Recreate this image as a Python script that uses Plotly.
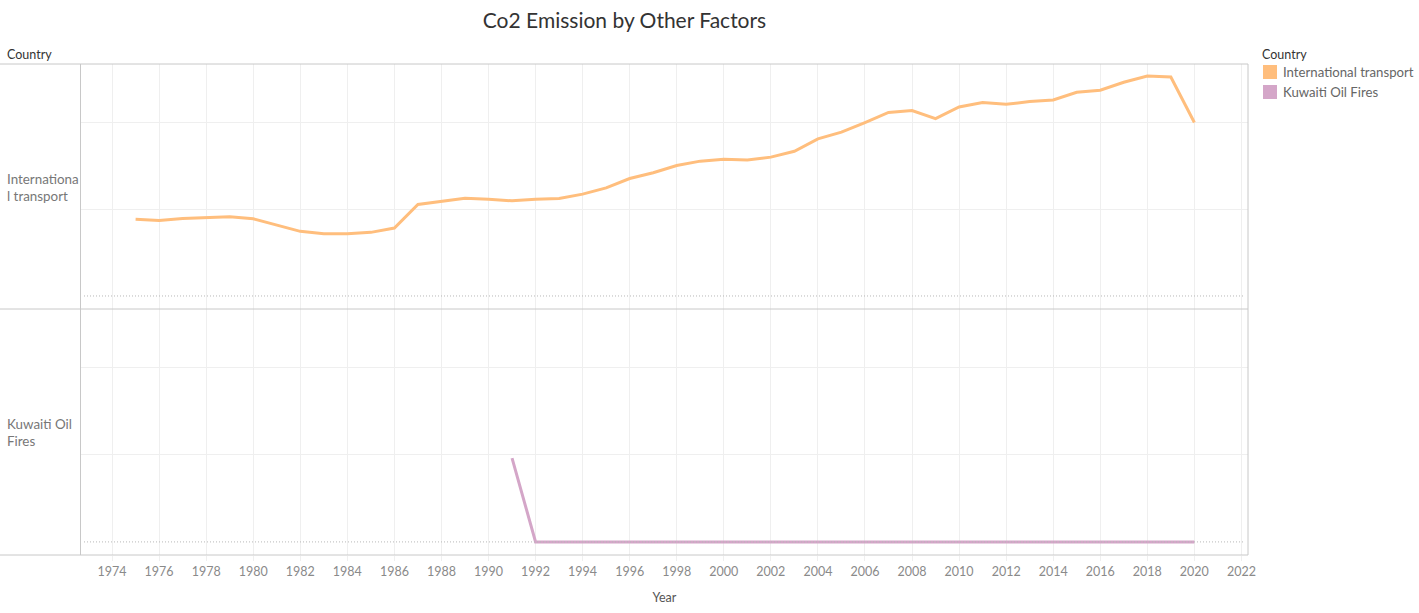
import plotly.graph_objects as go

years_intl = list(range(1975, 2021))
intl_transport = [442, 435, 446, 452, 456, 444, 408, 372, 358, 358,
                  366, 391, 527, 544, 563, 556, 548, 557, 561, 586,
                  622, 676, 709, 751, 776, 787, 782, 799, 833, 904,
                  943, 998, 1056, 1067, 1021, 1088, 1113, 1103, 1119, 1128,
                  1172, 1184, 1230, 1266, 1260, 998]

years_kuwait = list(range(1991, 2021))
kuwait_fires = [480] + [0] * 29

series_names = ["International transport", "Kuwaiti Oil Fires"]
row_labels = ["Internationa<br>l transport", "Kuwaiti Oil<br>Fires"]
colors = ["#FFBE7D", "#D4A6C8"]
tick_years = list(range(1974, 2023, 2))

W, H = 1427, 613
REF_W = 1419
def px_x(p): return p / REF_W
def px_y(p): return 1 - p / H

X0, X1 = 81, 1248
TOP, MID, BOT = 64, 309, 555

FONT = "Lato"
GRID = "#efefef"
BORDER = "#c8c8c8"

fig = go.Figure()
fig.add_trace(go.Scatter(x=years_intl, y=intl_transport, mode="lines",
                         line=dict(color=colors[0], width=3), name=series_names[0],
                         xaxis="x", yaxis="y", showlegend=False))
fig.add_trace(go.Scatter(x=years_kuwait, y=kuwait_fires, mode="lines",
                         line=dict(color=colors[1], width=3), name=series_names[1],
                         xaxis="x2", yaxis="y2", showlegend=False))

xrange = [1972.68, 2022.28]
yrange = [-75, 1335]

common_x = dict(range=xrange, tickmode="array", tickvals=tick_years,
                showgrid=True, gridcolor=GRID, gridwidth=1, zeroline=False,
                showline=False, domain=[px_x(X0), px_x(X1)], fixedrange=True)
common_y = dict(range=yrange, tickmode="array", tickvals=[500, 1000],
                showgrid=True, gridcolor=GRID, gridwidth=1, zeroline=False,
                showticklabels=False, showline=False, fixedrange=True)

fig.update_layout(
    width=W, height=H,
    margin=dict(l=0, r=0, t=0, b=0),
    paper_bgcolor="white", plot_bgcolor="white",
    showlegend=False,
    xaxis=dict(**common_x, anchor="y", showticklabels=False),
    yaxis=dict(**common_y, anchor="x", domain=[px_y(MID), px_y(TOP)]),
    xaxis2=dict(**common_x, anchor="y2", showticklabels=True,
                ticks="outside", ticklen=5, tickcolor=GRID,
                tickfont=dict(family=FONT, size=12.5, color="#8a8a8a"),
                title=dict(text="Year", font=dict(family=FONT, size=12.5, color="#555555"),
                           standoff=15)),
    yaxis2=dict(**common_y, anchor="x2", domain=[px_y(BOT), px_y(MID)]),
    title=dict(text="Co2 Emission by Other Factors", x=px_x(621), xanchor="center",
               y=px_y(21), yanchor="middle",
               font=dict(family=FONT, size=21, color="#333333")),
)

shapes = []
for yr in ["y", "y2"]:
    shapes.append(dict(type="line", xref="paper", yref=yr, x0=px_x(84), x1=px_x(1245),
                       y0=0, y1=0, line=dict(color="#b8b8b8", width=1, dash="1px,2px")))
for yy in [TOP, MID, BOT]:
    shapes.append(dict(type="line", xref="paper", yref="paper", x0=0, x1=px_x(X1),
                       y0=px_y(yy), y1=px_y(yy), line=dict(color=BORDER, width=1)))
for xx in [X0 - 0.5, X1]:
    shapes.append(dict(type="line", xref="paper", yref="paper", x0=px_x(xx), x1=px_x(xx),
                       y0=px_y(TOP), y1=px_y(BOT), line=dict(color=BORDER, width=1)))
for i, c in enumerate(colors):
    yc = 72 + i * 20
    shapes.append(dict(type="rect", xref="paper", yref="paper",
                       x0=px_x(1263), x1=px_x(1277), y0=px_y(yc - 7), y1=px_y(yc + 7),
                       fillcolor=c, line=dict(width=0)))

annotations = []
for xx in [5, 1260]:
    annotations.append(dict(text="Country", xref="paper", yref="paper", x=px_x(xx), y=px_y(55),
                            xanchor="left", yanchor="middle", showarrow=False,
                            font=dict(family=FONT, size=12.5, color="#333333")))
for i, name in enumerate(series_names):
    yc = 72 + i * 20
    annotations.append(dict(text=name, xref="paper", yref="paper", x=px_x(1281), y=px_y(yc),
                            xanchor="left", yanchor="middle", showarrow=False,
                            font=dict(family=FONT, size=13.2, color="#666666")))
for lab, yc in zip(row_labels, [187, 432]):
    annotations.append(dict(text=lab, xref="paper", yref="paper", x=px_x(5), y=px_y(yc),
                            xanchor="left", yanchor="middle", align="left", showarrow=False,
                            font=dict(family=FONT, size=13.4, color="#777777")))

fig.update_layout(shapes=shapes, annotations=annotations)
fig.write_html("out.html", config={"displayModeBar": False},
               post_script="document.body.style.margin='0';document.body.style.overflow='hidden';")
